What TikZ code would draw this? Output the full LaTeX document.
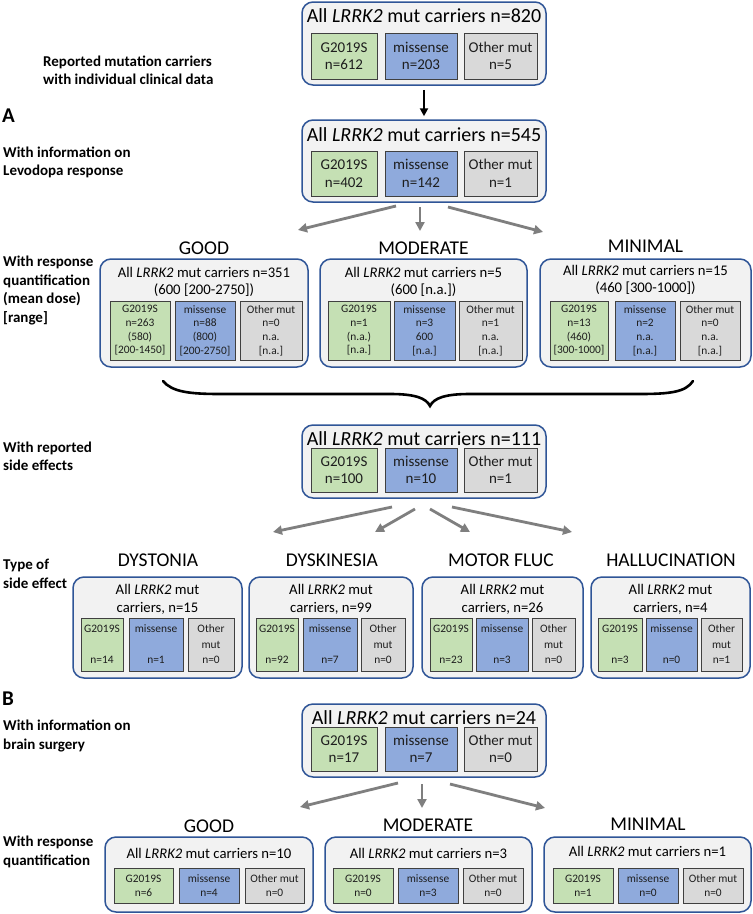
\documentclass[tikz,border=0pt]{standalone}
\usepackage{fontspec}
\setmainfont{Carlito}
\usetikzlibrary{arrows.meta}
\definecolor{bord}{RGB}{47,85,151}
\definecolor{boxfill}{RGB}{242,242,242}
\definecolor{gfill}{RGB}{197,224,180}
\definecolor{bfill}{RGB}{143,170,220}
\definecolor{ofill}{RGB}{217,217,217}
\definecolor{subline}{RGB}{64,64,64}
\definecolor{agray}{RGB}{127,127,127}
\definecolor{txt}{RGB}{30,30,30}
\newcommand\bx[7]{%
 \pgfmathsetmacro\bxcx{(#3+#5)/2}%
 \pgfmathsetmacro\bxcy{(#4+#6)/2}%
 \pgfmathsetmacro\bxw{#5-#3}%
 \pgfmathsetmacro\bxh{#6-#4}%
 \node[#1, minimum width=\bxw pt, minimum height=\bxh pt, inner sep=0pt] (#2) at (\bxcx,\bxcy) {#7};}
\begin{document}
\begin{tikzpicture}[x=1pt,y=-1pt,
 outer/.style={draw=bord, fill=boxfill, line width=1.5pt, rounded corners=11pt},
 subb/.style={draw=subline, line width=0.9pt, align=center, text=txt},
 gsub/.style={subb, fill=gfill},
 bsub/.style={subb, fill=bfill},
 osub/.style={subb, fill=ofill},
 fbig/.style={font=\fontsize{15}{17.5}\selectfont},
 fsm/.style={font=\fontsize{11.4}{13.7}\selectfont},
 fse/.style={font=\fontsize{11.4}{15.5}\selectfont},
 ttl/.style={font=\fontsize{20}{22}\selectfont, inner sep=0pt, text=black},
 ttls/.style={font=\fontsize{14.7}{17}\selectfont, align=center, inner sep=0pt, text=black},
 ttlse/.style={font=\fontsize{14.7}{18}\selectfont, align=center, inner sep=0pt, text=black},
 head/.style={font=\fontsize{19.5}{22}\selectfont, inner sep=0pt, text=black},
 lab/.style={font=\bfseries\fontsize{15}{18.5}\selectfont, align=left, anchor=west, inner sep=0pt},
 letter/.style={font=\bfseries\fontsize{21}{24}\selectfont, anchor=west, inner sep=0pt},
 garrow/.style={draw=agray, line width=2.8pt, -{Triangle[length=9pt,width=9pt]}},
 barrow/.style={draw=black, line width=2.5pt, -{Triangle[length=8pt,width=8pt]}}]
\fill[white] (0,0) rectangle (753,914);
\useasboundingbox (0,0) rectangle (753,914);

% ---------- left labels ----------
\node[lab] (l1) at (43,70.5) {Reported mutation carriers\\with individual clinical data};
\node[letter] (la) at (2,116) {A};
\node[lab] (l2) at (3,162.5) {With information on\\Levodopa response};
\node[lab] (l3) at (3,290.5) {With response\\quantification\\(mean dose)\\{[range]}};
\node[lab] (l4) at (3,456.5) {With reported\\side effects};
\node[lab] (l5) at (3,574) {Type of\\side effect};
\node[letter] (lb) at (2,699) {B};
\node[lab] (l6) at (3,736) {With information on\\brain surgery};
\node[lab] (l7) at (3,852) {With response\\quantification};

% ---------- box 1 ----------
\bx{outer}{box1}{302}{2}{546}{85}{}
\node[ttl] (box1t) at (424,16) {All \textit{LRRK2} mut carriers n=820};
\bx{gsub,fbig}{box1g}{311}{33}{377}{79}{G2019S\\n=612}
\bx{bsub,fbig}{box1b}{385}{33}{457}{79}{missense\\n=203}
\bx{osub,fbig}{box1o}{464}{33}{537}{79}{Other mut\\n=5}

% ---------- box 2 ----------
\bx{outer}{box2}{302}{120}{546}{202}{}
\node[ttl] (box2t) at (424,135) {All \textit{LRRK2} mut carriers n=545};
\bx{gsub,fbig}{box2g}{311}{151}{377}{196}{G2019S\\n=402}
\bx{bsub,fbig}{box2b}{385}{151}{457}{196}{missense\\n=142}
\bx{osub,fbig}{box2o}{464}{151}{537}{196}{Other mut\\n=1}

\draw[barrow, shorten <=4pt, shorten >=3pt] (box1) -- (box2);

% ---------- A row ----------
\node[head] (hgoodA) at (204,248) {GOOD};
\node[head] (hmodA) at (423.5,248) {MODERATE};
\node[head] (hminA) at (645.5,246) {MINIMAL};

\coordinate (a1s) at (396,206); \coordinate (a1e) at (298,230);
\coordinate (a2s) at (420,207); \coordinate (a2e) at (420,231);
\coordinate (a3s) at (448,207); \coordinate (a3e) at (543,232);
\draw[garrow] (a1s) -- (a1e);
\draw[garrow] (a2s) -- (a2e);
\draw[garrow] (a3s) -- (a3e);

\bx{outer}{goodA}{100}{259}{308}{367}{}
\node[ttls] (goodAt) at (204,281.5) {All \textit{LRRK2} mut carriers n=351\\(600 [200-2750])};
\bx{gsub,fsm}{goodAg}{110}{301}{170}{360}{G2019S\\n=263\\(580)\\{[200-1450]}}
\bx{bsub,fsm}{goodAb}{175}{301}{235}{360}{missense\\n=88\\(800)\\{[200-2750]}}
\bx{osub,fsm}{goodAo}{240}{301}{302}{360}{Other mut\\n=0\\n.a.\\{[n.a.]}}

\bx{outer}{modA}{320}{259}{527}{367}{}
\node[ttls] (modAt) at (423.5,281.5) {All \textit{LRRK2} mut carriers n=5\\(600 [n.a.])};
\bx{gsub,fsm}{modAg}{328}{301}{390}{360}{G2019S\\n=1\\(n.a.)\\{[n.a.]}}
\bx{bsub,fsm}{modAb}{394}{301}{455}{360}{missense\\n=3\\600\\{[n.a.]}}
\bx{osub,fsm}{modAo}{459}{301}{522}{360}{Other mut\\n=1\\n.a.\\{[n.a.]}}

\bx{outer}{minA}{540}{259}{751}{367}{}
\node[ttls] (minAt) at (645.5,280) {All \textit{LRRK2} mut carriers n=15\\(460 [300-1000])};
\bx{gsub,fsm}{minAg}{550}{301}{608}{360}{G2019S\\n=13\\(460)\\{[300-1000]}}
\bx{bsub,fsm}{minAb}{615}{301}{675}{360}{missense\\n=2\\n.a.\\{[n.a.]}}
\bx{osub,fsm}{minAo}{680}{301}{740}{360}{Other mut\\n=0\\n.a.\\{[n.a.]}}

% ---------- brace ----------
\draw[line width=2.6pt, line cap=round] (163,381) .. controls (172,392) and (190,394) .. (220,394)
  -- (390,394) .. controls (415,394) and (426,398) .. (430,406)
  .. controls (434,398) and (445,394) .. (470,394) -- (640,394)
  .. controls (670,394) and (686,392) .. (693,381);

% ---------- side effects box ----------
\bx{outer}{sbox}{302}{425}{546}{498}{}
\node[ttl] (sboxt) at (424,439) {All \textit{LRRK2} mut carriers n=111};
\bx{gsub,fbig}{sboxg}{311}{448}{377}{492}{G2019S\\n=100}
\bx{bsub,fbig}{sboxb}{385}{448}{457}{492}{missense\\n=10}
\bx{osub,fbig}{sboxo}{464}{448}{537}{492}{Other mut\\n=1}

\coordinate (s1s) at (392,507); \coordinate (s1e) at (273,532);
\coordinate (s2s) at (415,509); \coordinate (s2e) at (375,532);
\coordinate (s3s) at (430,509); \coordinate (s3e) at (470,532);
\coordinate (s4s) at (452,507); \coordinate (s4e) at (572,532);
\draw[garrow] (s1s) -- (s1e);
\draw[garrow] (s2s) -- (s2e);
\draw[garrow] (s3s) -- (s3e);
\draw[garrow] (s4s) -- (s4e);

\node[head] (hdys) at (158,560) {DYSTONIA};
\node[head] (hdysk) at (332,560) {DYSKINESIA};
\node[head] (hmot) at (501,560) {MOTOR FLUC};
\node[head] (hhal) at (671,560) {HALLUCINATION};

\bx{outer}{dys}{73}{577}{242}{678}{}
\node[ttlse] (dyst) at (157.5,599) {All \textit{LRRK2} mut\\carriers, n=15};
\bx{gsub,fse}{dysg}{81}{618}{123}{671}{G2019S\\~\\n=14}
\bx{bsub,fse}{dysb}{129}{618}{183}{671}{missense\\~\\n=1}
\bx{osub,fse}{dyso}{188}{618}{234}{671}{Other\\mut\\n=0}

\bx{outer}{dysk}{249}{577}{413}{678}{}
\node[ttlse] (dyskt) at (331,599) {All \textit{LRRK2} mut\\carriers, n=99};
\bx{gsub,fse}{dyskg}{256}{618}{298}{671}{G2019S\\~\\n=92}
\bx{bsub,fse}{dyskb}{303}{618}{357}{671}{missense\\~\\n=7}
\bx{osub,fse}{dysko}{361}{618}{405}{671}{Other\\mut\\n=0}

\bx{outer}{mot}{422}{577}{583}{678}{}
\node[ttlse] (mott) at (502.5,599) {All \textit{LRRK2} mut\\carriers, n=26};
\bx{gsub,fse}{motg}{430}{618}{472}{671}{G2019S\\~\\n=23}
\bx{bsub,fse}{motb}{476}{618}{528}{671}{missense\\~\\n=3}
\bx{osub,fse}{moto}{532}{618}{575}{671}{Other\\mut\\n=0}

\bx{outer}{hal}{591}{577}{750}{678}{}
\node[ttlse] (halt) at (670.5,599) {All \textit{LRRK2} mut\\carriers, n=4};
\bx{gsub,fse}{halg}{598}{618}{642}{671}{G2019S\\~\\n=3}
\bx{bsub,fse}{halb}{646}{618}{697}{671}{missense\\~\\n=0}
\bx{osub,fse}{halo}{701}{618}{742}{671}{Other\\mut\\n=1}

% ---------- B box ----------
\bx{outer}{bbox}{302}{704}{546}{777}{}
\node[ttl] (bboxt) at (424,718) {All \textit{LRRK2} mut carriers n=24};
\bx{gsub,fbig}{bboxg}{311}{727}{377}{771}{G2019S\\n=17}
\bx{bsub,fbig}{bboxb}{385}{727}{457}{771}{missense\\n=7}
\bx{osub,fbig}{bboxo}{464}{727}{537}{771}{Other mut\\n=0}

\coordinate (b1s) at (398,783); \coordinate (b1e) at (300,807);
\coordinate (b2s) at (422,784); \coordinate (b2e) at (422,808);
\coordinate (b3s) at (450,784); \coordinate (b3e) at (545,808);
\draw[garrow] (b1s) -- (b1e);
\draw[garrow] (b2s) -- (b2e);
\draw[garrow] (b3s) -- (b3e);

\node[head] (hgoodB) at (209,826) {GOOD};
\node[head] (hmodB) at (428,825) {MODERATE};
\node[head] (hminB) at (648,824) {MINIMAL};

\bx{outer}{goodB}{105}{837}{313}{912}{}
\node[ttls] (goodBt) at (209,853) {All \textit{LRRK2} mut carriers n=10};
\bx{gsub,fsm}{goodBg}{114}{868}{173}{903}{G2019S\\n=6}
\bx{bsub,fsm}{goodBb}{179}{868}{239}{903}{missense\\n=4}
\bx{osub,fsm}{goodBo}{245}{868}{304}{903}{Other mut\\n=0}

\bx{outer}{modB}{325}{837}{532}{912}{}
\node[ttls] (modBt) at (428.5,853) {All \textit{LRRK2} mut carriers n=3};
\bx{gsub,fsm}{modBg}{333}{868}{393}{903}{G2019S\\n=0}
\bx{bsub,fsm}{modBb}{398}{868}{458}{903}{missense\\n=3}
\bx{osub,fsm}{modBo}{463}{868}{523}{903}{Other mut\\n=0}

\bx{outer}{minB}{544}{837}{751}{912}{}
\node[ttls] (minBt) at (647.5,851) {All \textit{LRRK2} mut carriers n=1};
\bx{gsub,fsm}{minBg}{553}{868}{613}{903}{G2019S\\n=1}
\bx{bsub,fsm}{minBb}{618}{868}{678}{903}{missense\\n=0}
\bx{osub,fsm}{minBo}{683}{868}{743}{903}{Other mut\\n=0}
\end{tikzpicture}
\end{document}
